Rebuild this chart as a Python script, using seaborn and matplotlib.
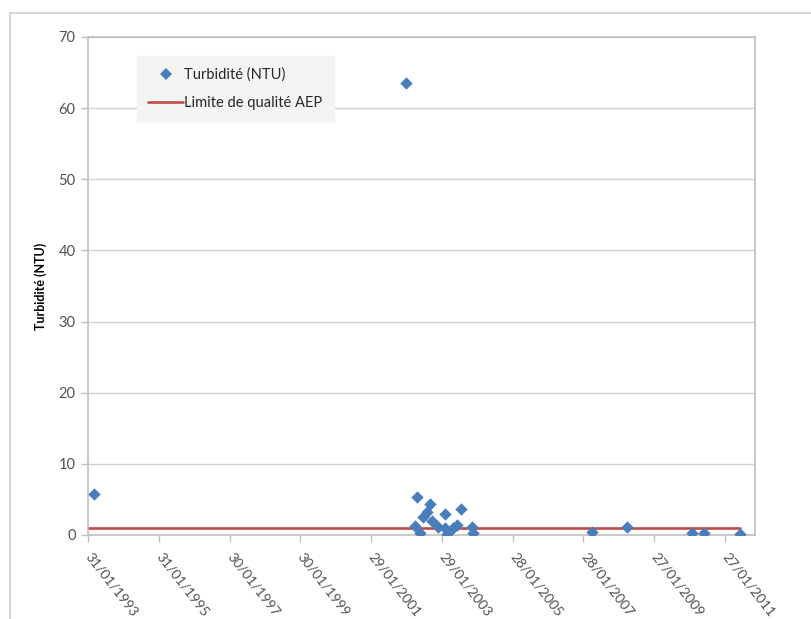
import matplotlib
matplotlib.use("Agg")
import matplotlib.pyplot as plt
from matplotlib.lines import Line2D
import seaborn as sns
import pandas as pd

# Turbidity measurements (date, NTU)
sample_dates = [
    "1993-04-03",
    "2002-01-24", "2002-04-27", "2002-05-17", "2002-06-17", "2002-07-18",
    "2002-08-28", "2002-09-28", "2002-10-19", "2002-12-20", "2003-03-02",
    "2003-03-05", "2003-03-23", "2003-05-24", "2003-07-04", "2003-08-14",
    "2003-12-06", "2003-12-16",
    "2007-04-26", "2008-04-21", "2010-02-22", "2010-06-26", "2011-07-02",
]
turbidity = [
    5.8,
    63.5, 1.2, 5.3, 0.3, 2.6,
    3.3, 4.3, 1.9, 1.1, 3.0,
    1.0, 0.1, 1.0, 1.4, 3.7,
    1.1, 0.3,
    0.4, 1.1, 0.3, 0.3, 0.2,
]

# Drinking-water quality limit (NTU)
limit_dates = ["1993-01-31", "2011-07-02"]
limit_values = [1.0, 1.0]

tick_labels = ["31/01/1993", "31/01/1995", "30/01/1997", "30/01/1999", "29/01/2001",
               "29/01/2003", "28/01/2005", "28/01/2007", "27/01/2009", "27/01/2011"]
y_ticks = [0, 10, 20, 30, 40, 50, 60, 70]

df = pd.DataFrame({"date": pd.to_datetime(sample_dates), "ntu": turbidity})
lim = pd.DataFrame({"date": pd.to_datetime(limit_dates), "ntu": limit_values})
tick_dates = pd.to_datetime(tick_labels, format="%d/%m/%Y")

sns.set_theme(style="white")
plt.rcParams["font.family"] = ["Lato", "DejaVu Sans"]

W, H = 812, 619
fig = plt.figure(figsize=(W / 100, H / 100), dpi=100)
ax = fig.add_axes([88 / W, (H - 535) / H, (755 - 88) / W, (535 - 37) / H])

blue = "#4a7ebb"
red = "#be4b48"
grey = "#bfbfbf"
txt = "#505050"

sns.lineplot(data=lim, x="date", y="ntu", ax=ax, color=red, linewidth=1.9,
             zorder=2, legend=False)
sns.scatterplot(data=df, x="date", y="ntu", ax=ax, marker="D", s=40,
                color=blue, linewidth=0, zorder=3, legend=False)

ax.set_xlim(pd.Timestamp("1993-01-31"), pd.Timestamp("2011-12-02"))
ax.set_ylim(0, 70)
ax.set_yticks(y_ticks)
ax.set_yticklabels([str(v) for v in y_ticks], color=txt, fontsize=10.5)
ax.set_xticks(tick_dates)
ax.set_xticklabels(tick_labels, color=txt, fontsize=10, rotation=-52,
                   rotation_mode="anchor", ha="left", va="center")
ax.yaxis.grid(True, color="#d0d0d0", linewidth=1)
ax.set_axisbelow(True)
for s in ax.spines.values():
    s.set_color(grey)
    s.set_linewidth(1.2)
ax.tick_params(axis="both", direction="out", length=5, width=1, color=grey,
               bottom=True, left=True, pad=4)
ax.tick_params(axis="x", pad=9)
ax.set_xlabel("")
ax.set_ylabel("Turbidité (NTU)", fontsize=9, fontweight="bold", color="black",
              labelpad=8)

handles = [
    Line2D([], [], marker="D", linestyle="none", color=blue, markersize=5.8,
           markeredgewidth=0),
    Line2D([], [], color=red, linewidth=1.9),
]
leg = ax.legend(handles, ["Turbidité (NTU)", "Limite de qualité AEP"],
                loc="upper left", bbox_to_anchor=(0.073, 0.962), fontsize=10.5,
                frameon=True, fancybox=False, handlelength=2.4,
                handletextpad=0.05, borderpad=0.8, labelspacing=0.95,
                borderaxespad=0)
leg.get_frame().set_facecolor("#f4f4f4")
leg.get_frame().set_edgecolor("#f4f4f4")
leg.get_frame().set_alpha(1)

# chart area border
fig.add_artist(Line2D([10 / W, 10 / W], [0, 1 - 13 / H], transform=fig.transFigure,
                      color="#d0d0d0", linewidth=1.2))
fig.add_artist(Line2D([10 / W, 1], [1 - 13 / H, 1 - 13 / H], transform=fig.transFigure,
                      color="#d0d0d0", linewidth=1.2))

fig.savefig("out.png", dpi=100)
